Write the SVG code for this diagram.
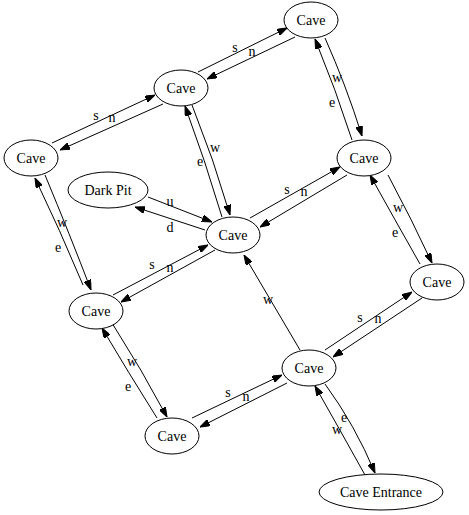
<svg xmlns="http://www.w3.org/2000/svg" width="469" height="515" viewBox="0 0 469 515">
  <defs>
    <marker id="arrow" markerUnits="userSpaceOnUse" markerWidth="10" markerHeight="7" refX="10" refY="3.5" orient="auto">
      <path d="M0,0 L10,3.5 L0,7 z" fill="#000" stroke="#000" stroke-width="1"/>
    </marker>
  </defs>
  <style>
    .node ellipse { fill: #fff; stroke: #000; stroke-width: 1; }
    .node text { font-family: "Liberation Serif", "Times New Roman", serif; font-size: 14px; text-anchor: middle; fill: #000; }
    .edges path { fill: none; stroke: #000; stroke-width: 1; marker-end: url(#arrow); }
    .edges text { font-family: "Liberation Serif", "Times New Roman", serif; font-size: 14px; text-anchor: middle; fill: #000; }
  </style>
  <rect width="469" height="515" fill="#fff"/>

  <!-- connectors -->
  <g id="edges" class="edges">
    <!-- top cave <-> upper cave -->
    <path d="M198,72 L287,28"/>
    <path d="M295,37 L207,79"/>
    <text x="235" y="52">s</text>
    <text x="252" y="56">n</text>

    <!-- upper cave <-> left cave -->
    <path d="M52,143 L155,95"/>
    <path d="M163,104 L60,150"/>
    <text x="96" y="120">s</text>
    <text x="112" y="122">n</text>

    <!-- top cave <-> right cave -->
    <path d="M325,38 Q346,85 362,136"/>
    <path d="M352,140 Q336,90 315,39"/>
    <text x="337" y="82">w</text>
    <text x="332" y="107">e</text>

    <!-- upper cave <-> centre cave -->
    <path d="M192,105 Q214,160 230,215"/>
    <path d="M222,217 Q205,160 185,106"/>
    <text x="215" y="152">w</text>
    <text x="200" y="166">e</text>

    <!-- left cave <-> lower-left cave -->
    <path d="M45,175 Q70,235 91,290"/>
    <path d="M83,285 Q60,230 35,178"/>
    <text x="62" y="227">w</text>
    <text x="58" y="252">e</text>

    <!-- dark pit <-> centre cave -->
    <path d="M148,197 L212,222"/>
    <path d="M205,230 L135,207"/>
    <text x="170" y="206">u</text>
    <text x="170" y="232">d</text>

    <!-- centre cave <-> right cave -->
    <path d="M250,218 L340,167"/>
    <path d="M347,175 L260,227"/>
    <text x="287" y="194">s</text>
    <text x="304" y="196">n</text>

    <!-- right cave <-> far-right cave -->
    <path d="M388,175 Q412,220 432,263"/>
    <path d="M420,264 Q395,220 370,175"/>
    <text x="398" y="212">w</text>
    <text x="395" y="237">e</text>

    <!-- lower-left cave <-> centre cave -->
    <path d="M113,295 L208,245"/>
    <path d="M215,250 L121,302"/>
    <text x="152" y="269">s</text>
    <text x="170" y="272">n</text>

    <!-- lower cave -> centre cave -->
    <path d="M300,350 L244,255"/>
    <text x="268" y="304">w</text>

    <!-- lower cave <-> far-right cave -->
    <path d="M325,350 L412,292"/>
    <path d="M422,298 L333,357"/>
    <text x="360" y="322">s</text>
    <text x="378" y="323">n</text>

    <!-- lower-left cave <-> bottom cave -->
    <path d="M112,323 Q142,370 167,417"/>
    <path d="M157,418 Q128,372 102,328"/>
    <text x="132" y="366">w</text>
    <text x="128" y="391">e</text>

    <!-- bottom cave <-> lower cave -->
    <path d="M192,418 L282,375"/>
    <path d="M287,383 L200,427"/>
    <text x="228" y="397">s</text>
    <text x="246" y="401">n</text>

    <!-- lower cave <-> entrance -->
    <path d="M325,384 Q355,425 375,473"/>
    <path d="M365,475 Q340,430 315,386"/>
    <text x="344" y="422">e</text>
    <text x="337" y="434">w</text>
  </g>

  <!-- nodes -->
  <g id="cave_top" class="node">
    <ellipse cx="311" cy="20" rx="27" ry="18"/>
    <text x="311" y="25">Cave</text>
  </g>
  <g id="cave_upper" class="node">
    <ellipse cx="181" cy="88" rx="27" ry="18"/>
    <text x="181" y="93">Cave</text>
  </g>
  <g id="cave_left" class="node">
    <ellipse cx="31" cy="158" rx="27" ry="18"/>
    <text x="31" y="163">Cave</text>
  </g>
  <g id="dark_pit" class="node">
    <ellipse cx="108" cy="190" rx="40" ry="18"/>
    <text x="108" y="195">Dark Pit</text>
  </g>
  <g id="cave_centre" class="node">
    <ellipse cx="233" cy="235" rx="27" ry="18"/>
    <text x="233" y="240">Cave</text>
  </g>
  <g id="cave_right" class="node">
    <ellipse cx="364" cy="158" rx="27" ry="18"/>
    <text x="364" y="163">Cave</text>
  </g>
  <g id="cave_far_right" class="node">
    <ellipse cx="437" cy="282" rx="27" ry="18"/>
    <text x="437" y="287">Cave</text>
  </g>
  <g id="cave_lower_left" class="node">
    <ellipse cx="96" cy="311" rx="27" ry="18"/>
    <text x="96" y="316">Cave</text>
  </g>
  <g id="cave_bottom" class="node">
    <ellipse cx="172" cy="436" rx="27" ry="18"/>
    <text x="172" y="441">Cave</text>
  </g>
  <g id="cave_lower" class="node">
    <ellipse cx="309" cy="368" rx="27" ry="18"/>
    <text x="309" y="373">Cave</text>
  </g>
  <g id="cave_entrance" class="node">
    <ellipse cx="381" cy="492" rx="62" ry="18"/>
    <text x="381" y="497">Cave Entrance</text>
  </g>
</svg>
